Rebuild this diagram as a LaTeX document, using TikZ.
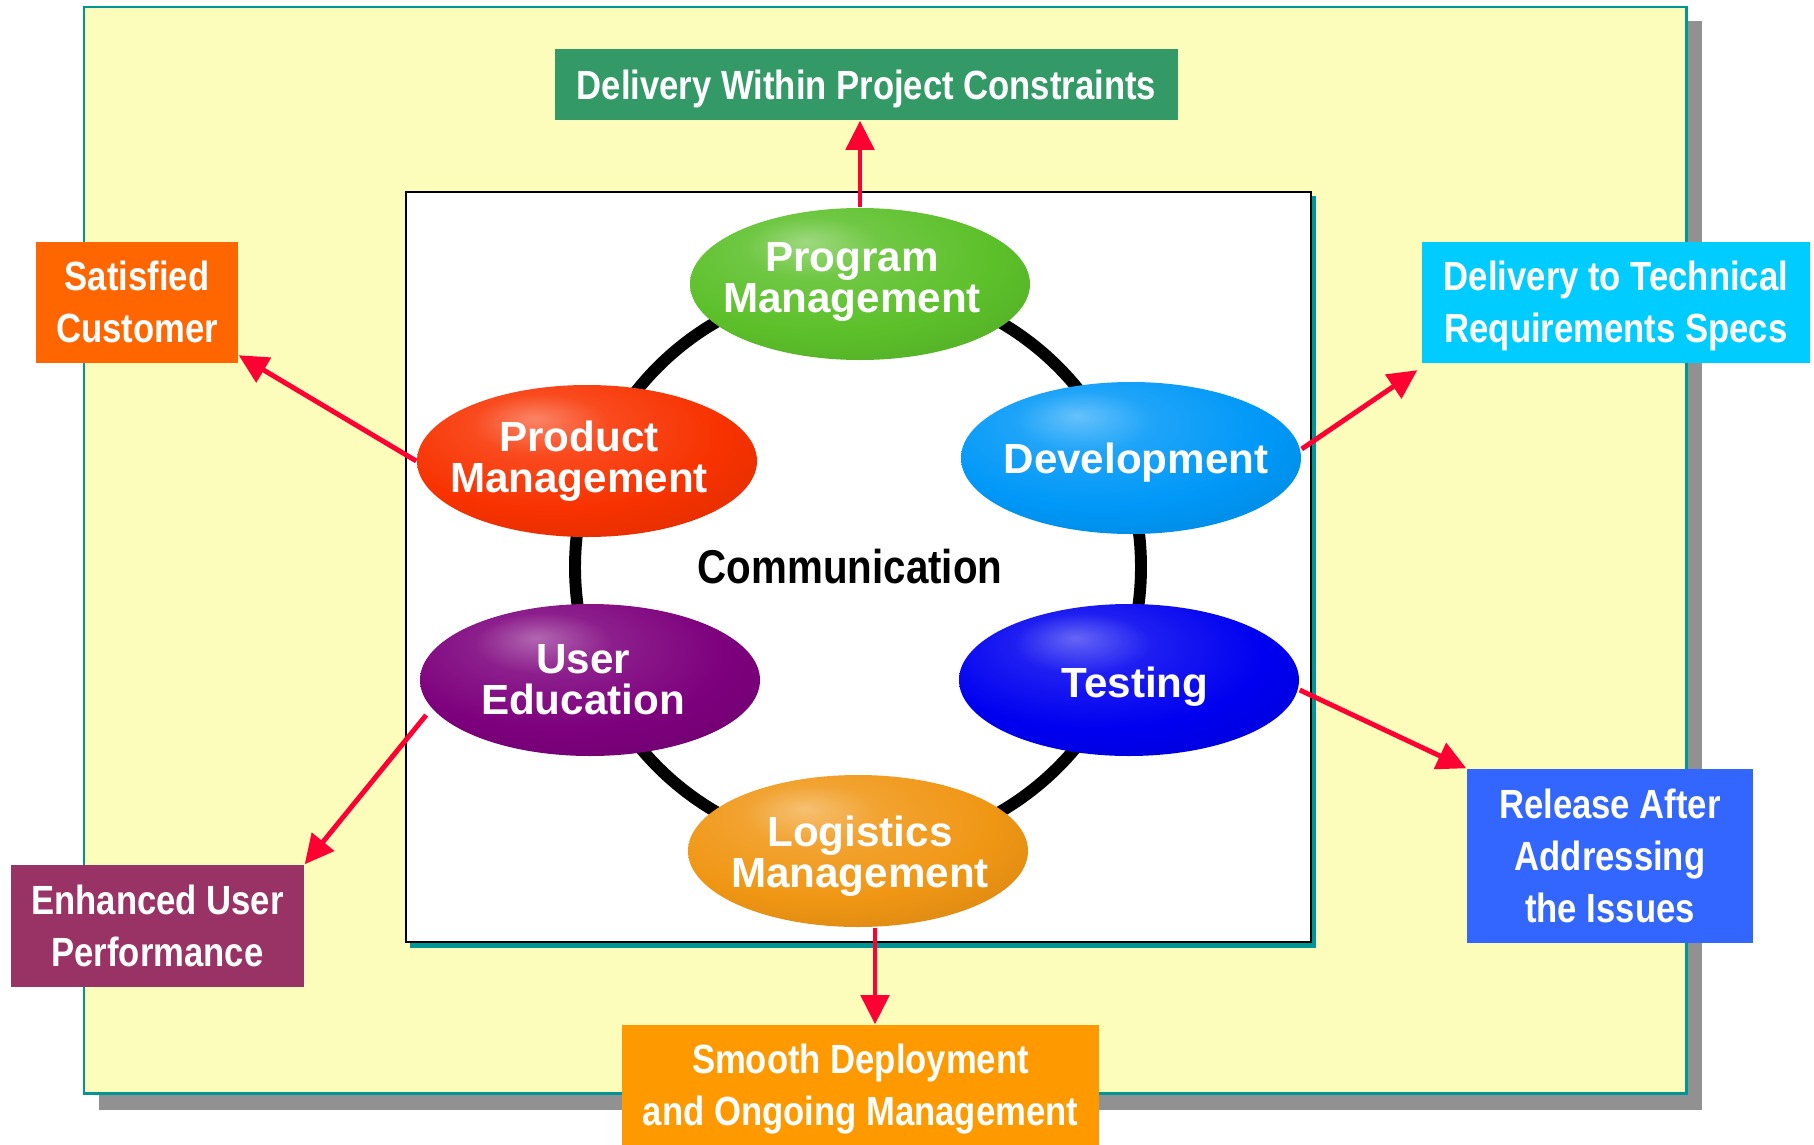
\documentclass[tikz,border=0pt]{standalone}
\usepackage{fontspec}
\setmainfont{Liberation Sans}
\newfontfamily\narrowfont{Liberation Sans}[FakeStretch=0.85]
\usepackage{tikz}
\usetikzlibrary{arrows.meta, shapes.geometric, positioning}

\definecolor{panelyellow}{RGB}{252,252,187}
\definecolor{panelteal}{RGB}{0,150,150}
\definecolor{shadowgray}{RGB}{145,145,145}
\definecolor{arrowred}{RGB}{255,0,51}
\definecolor{progreen}{RGB}{92,192,42}
\definecolor{prodred}{RGB}{248,50,0}
\definecolor{devblue}{RGB}{0,152,248}
\definecolor{testblue}{RGB}{0,0,240}
\definecolor{logorange}{RGB}{240,150,20}
\definecolor{userpurple}{RGB}{125,0,125}
\definecolor{goalgreen}{RGB}{51,153,102}
\definecolor{goalorange}{RGB}{255,102,0}
\definecolor{goalcyan}{RGB}{0,204,255}
\definecolor{goalplum}{RGB}{153,51,102}
\definecolor{goalblue}{RGB}{51,102,255}
\definecolor{goalamber}{RGB}{255,153,0}

\colorlet{egg}{gray}
\pgfdeclareradialshading[egg]{egg}{\pgfpoint{-8bp}{14bp}}{%
  color(0bp)=(egg!60!white); color(10bp)=(egg!88!white); color(25bp)=(egg);
  color(45bp)=(egg!85!black); color(60bp)=(egg!55!black); color(70bp)=(egg!40!black)}

\tikzset{
  egg color/.code={\colorlet{egg}{#1}\tikzset{shade, shading=egg}},
  phase/.style={ellipse, minimum width=34mm, minimum height=15.2mm, inner sep=0pt, egg color=#1},
  phasetext/.style={text=white, font=\fontsize{12}{11.7}\selectfont\bfseries, align=center},
  goal/.style={fill=#1, text=white, inner sep=0pt, align=center, text depth=0pt,
    font=\narrowfont\fontsize{11.6}{14.8}\selectfont\bfseries},
  flow/.style={-{Triangle[length=8.3pt,width=8pt]}, arrowred, line width=1.4pt},
}

\begin{document}
\begin{tikzpicture}[x=0.1mm, y=-0.1mm]
  \useasboundingbox (0,0) rectangle (1814,1145);
  % panels
  \fill[shadowgray] (99,21) rectangle (1702,1110);
  \draw[panelteal, fill=panelyellow, line width=0.85pt] (84,7) rectangle (1686,1093);
  \fill[panelteal] (410,196) rectangle (1316,948);
  \draw[fill=white, line width=0.6pt] (406,192) rectangle (1311,942);
  \draw[line width=3.4pt] (858,567) circle[radius=28.3mm];

  % phases round the ring
  \node[phase=progreen] (prog) at (860,284) {};
  \node[phasetext, xshift=-0.8mm, yshift=0.2mm] at (prog) {Program\\Management};
  \node[phase=prodred] (prod) at (587,461) {};
  \node[phasetext, xshift=-0.8mm] at (prod) {Product\\Management};
  \node[phase=devblue] (dev) at (1131,458) {};
  \node[phasetext, xshift=0.5mm, yshift=-0.5mm] at (dev) {Development};
  \node[phase=userpurple] (user) at (590,680) {};
  \node[phasetext, xshift=-0.7mm] at (user) {User\\Education};
  \node[phase=testblue] (test) at (1129,680) {};
  \node[phasetext, xshift=0.6mm, yshift=-0.7mm] at (test) {Testing};
  \node[phase=logorange] (log) at (858,851) {};
  \node[phasetext, xshift=0.2mm, yshift=-0.5mm] at (log) {Logistics\\Management};
  \node[font=\narrowfont\fontsize{13.5}{16}\selectfont\bfseries] (comm) at (850,567) {Communication};

  % goals
  \node[goal=goalgreen, minimum width=62.3mm, minimum height=7.1mm] (dwpc) at (866.5,84.5) {Delivery Within Project Constraints};
  \node[goal=goalorange, minimum width=20.2mm, minimum height=12.1mm] (sat) at (137,302) {Satisfied\\Customer};
  \node[goal=goalcyan, minimum width=38.8mm, minimum height=12.1mm] (dtr) at (1616,302) {Delivery to Technical\\Requirements Specs};
  \node[goal=goalplum, minimum width=29.3mm, minimum height=12.2mm] (enh) at (157.5,926) {Enhanced User\\Performance};
  \node[goal=goalblue, minimum width=28.6mm, minimum height=17.4mm] (rel) at (1610,856) {Release After\\Addressing\\the Issues};
  \node[goal=goalamber, minimum width=47.7mm, minimum height=12mm] (smooth) at (860.5,1085) {Smooth Deployment\\and Ongoing Management};

  \draw[flow] (prog.north) -- (prog.north |- dwpc.south);
  \draw[flow] (prod.west) -- ([yshift=0.8mm]sat.south east);
  \draw[flow] ([yshift=0.9mm]dev.east) -- ([xshift=-0.4mm,yshift=-0.7mm]dtr.south west);
  \draw[flow] ([xshift=-1.2mm]user.193) -- (enh.north east);
  \draw[flow] ([yshift=-1mm]test.east) -- (rel.north west);
  \draw[flow] ([xshift=1.7mm]log.south) -- ([xshift=1.7mm]log.south |- smooth.north);
\end{tikzpicture}
\end{document}
